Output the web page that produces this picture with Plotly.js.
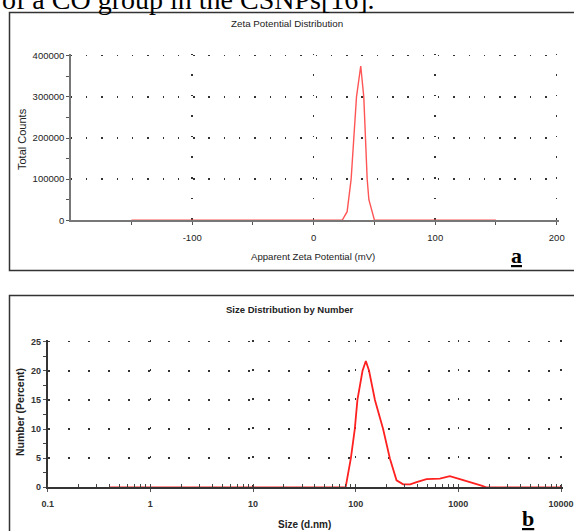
<!DOCTYPE html>
<html>
<head>
<meta charset="utf-8">
<script src="https://cdn.plot.ly/plotly-3.0.1.min.js"></script>
<style>html,body{margin:0;padding:0;background:#fff;}#chart{width:574px;height:531px;}</style>
</head>
<body>
<div id="chart"></div>
<script>
// ---- Panel a: Zeta potential distribution ----
const zetaX = [-150, -100, -50, 0, 20, 23.4, 27.5, 30.8, 35.2, 38.7, 41.2, 44, 45.4, 50, 100, 150];
const zetaY = [0, 0, 0, 0, 0, 0, 21000, 100000, 300000, 375000, 300000, 100000, 50000, 0, 0, 0];
const zetaXTicks = [-100, 0, 100, 200];
const zetaXTickText = ["-100", "0", "100", "200"];
const zetaYTicks = [0, 100000, 200000, 300000, 400000];
const zetaYTickText = ["0", "100000", "200000", "300000", "400000"];

// ---- Panel b: Size distribution by number ----
const sizeX = [0.4, 1, 10, 50, 79.8, 89.8, 98, 104, 116.6, 125.6, 135, 154, 185, 215, 250, 290, 340, 392, 490, 661, 826, 1035, 1343, 1682, 1862, 5000, 10000];
const sizeY = [0, 0, 0, 0, 0, 5, 10, 15, 20, 21.7, 20, 15, 10, 5, 1.2, 0.5, 0.5, 0.9, 1.4, 1.5, 1.9, 1.4, 0.86, 0.3, 0, 0, 0];
const sizeXTicks = [0.1, 1, 10, 100, 1000, 10000];
const sizeXTickText = ["0.1", "1", "10", "100", "1000", "10000"];
const sizeYTicks = [0, 5, 10, 15, 20, 25];
const sizeYTickText = ["0", "5", "10", "15", "20", "25"];

const W = 574, H = 531;
const px = v => v / W;
const py = v => 1 - v / H;
const sans = "Liberation Sans, Arial, sans-serif";
const serif = "Liberation Serif, Times New Roman, serif";
const gridCol = "#333";

const traces = [
  {x: zetaX, y: zetaY, type: "scatter", mode: "lines", xaxis: "x", yaxis: "y",
   line: {color: "#ff5555", width: 1.4}, hoverinfo: "skip"},
  {x: sizeX, y: sizeY, type: "scatter", mode: "lines", xaxis: "x2", yaxis: "y2",
   line: {color: "#ff2020", width: 1.8}, hoverinfo: "skip"}
];

const axisCommon = {
  showline: true, linecolor: "#777", linewidth: 1.5,
  ticks: "outside", ticklen: 3, tickcolor: "#555", tickwidth: 1,
  zeroline: false, showgrid: true,
  gridcolor: gridCol, gridwidth: 1.5, fixedrange: true
};

// ranges are padded by ~2px at the far ends so the edge grid lines are drawn
const layout = {
  width: W, height: H,
  margin: {l: 0, r: 0, t: 0, b: 0},
  paper_bgcolor: "#fff", plot_bgcolor: "rgba(0,0,0,0)",
  showlegend: false,
  xaxis: Object.assign({}, axisCommon, {
    domain: [px(70.7), px(558.8)], range: [-200, 201.7], anchor: "y",
    tickmode: "array", tickvals: zetaXTicks, ticktext: zetaXTickText,
    tickfont: {family: sans, size: 9.5, color: "#222"}, ticklabelstandoff: 5,
    griddash: "1.5px,19.07px",
    minor: {tickvals: [-150, -50, 50, 150], ticks: "outside", ticklen: 3, tickcolor: "#555", showgrid: false}
  }),
  yaxis: Object.assign({}, axisCommon, {
    domain: [py(220.3), py(53.64)], range: [0, 405000], anchor: "x",
    tickmode: "array", tickvals: zetaYTicks, ticktext: zetaYTickText,
    tickfont: {family: sans, size: 9.5, color: "#222"},
    griddash: "1.5px,13.8px",
    minor: {tickvals: [50000, 150000, 250000, 350000], ticks: "outside", ticklen: 3, tickcolor: "#555", showgrid: false}
  }),
  xaxis2: Object.assign({}, axisCommon, {
    domain: [px(47.7), px(563.05)], type: "log", range: [-1, 4.02], anchor: "y2",
    tickmode: "array", tickvals: sizeXTicks, ticktext: sizeXTickText,
    griddash: "2px,27.12px", linecolor: "#333", linewidth: 2,
    tickfont: {family: sans, size: 9, color: "#333", weight: "bold"}, ticklabelstandoff: 4,
    minor: {dtick: "D1", ticks: "inside", ticklen: 3, tickcolor: "#444", showgrid: false}
  }),
  yaxis2: Object.assign({}, axisCommon, {
    domain: [py(487.3), py(339.66)], range: [0, 25.35], anchor: "x2",
    tickmode: "array", tickvals: sizeYTicks, ticktext: sizeYTickText,
    griddash: "2px,18px", linecolor: "#333", linewidth: 2,
    tickfont: {family: sans, size: 9, color: "#333", weight: "bold"},
    minor: {tickvals: [2.5, 7.5, 12.5, 17.5, 22.5], ticks: "outside", ticklen: 3, tickcolor: "#444", showgrid: false}
  }),
  shapes: [
    {type: "rect", xref: "paper", yref: "paper", x0: px(9.5), x1: px(590), y0: py(270.5), y1: py(12.5),
     line: {color: "#333", width: 1.5}, fillcolor: "rgba(0,0,0,0)", layer: "below"},
    {type: "rect", xref: "paper", yref: "paper", x0: px(9.5), x1: px(590), y0: py(560), y1: py(295.5),
     line: {color: "#333", width: 1.5}, fillcolor: "rgba(0,0,0,0)", layer: "below"}
  ],
  annotations: [
    {text: "of a CO group in the CSNPs[16].", xref: "paper", yref: "paper", x: px(0), y: py(17), xanchor: "left", yanchor: "bottom",
     showarrow: false, font: {family: serif, size: 28, color: "#000"}},
    {text: "Zeta Potential Distribution", xref: "paper", yref: "paper", x: px(287), y: py(23), xanchor: "center", yanchor: "middle",
     showarrow: false, font: {family: sans, size: 9.8, color: "#222"}},
    {text: "Total Counts", xref: "paper", yref: "paper", x: px(22), y: py(139), xanchor: "center", yanchor: "middle",
     textangle: -90, showarrow: false, font: {family: sans, size: 11, color: "#222"}},
    {text: "Apparent Zeta Potential (mV)", xref: "paper", yref: "paper", x: px(313), y: py(257), xanchor: "center", yanchor: "middle",
     showarrow: false, font: {family: sans, size: 9.6, color: "#222"}},
    {text: "<b><u>a</u></b>", xref: "paper", yref: "paper", x: px(516), y: py(256), xanchor: "center", yanchor: "middle",
     showarrow: false, font: {family: serif, size: 22, color: "#000"}},
    {text: "Size Distribution by Number", xref: "paper", yref: "paper", x: px(290), y: py(309), xanchor: "center", yanchor: "middle",
     showarrow: false, font: {family: sans, size: 9.5, color: "#222", weight: "bold"}},
    {text: "Number (Percent)", xref: "paper", yref: "paper", x: px(20), y: py(412), xanchor: "center", yanchor: "middle",
     textangle: -90, showarrow: false, font: {family: sans, size: 10.5, color: "#222", weight: "bold"}},
    {text: "Size (d.nm)", xref: "paper", yref: "paper", x: px(304), y: py(524), xanchor: "center", yanchor: "middle",
     showarrow: false, font: {family: sans, size: 10, color: "#222", weight: "bold"}},
    {text: "<b><u>b</u></b>", xref: "paper", yref: "paper", x: px(528), y: py(518), xanchor: "center", yanchor: "middle",
     showarrow: false, font: {family: serif, size: 22, color: "#000"}}
  ]
};

Plotly.newPlot("chart", traces, layout, {displayModeBar: false, staticPlot: true});
</script>
</body>
</html>
